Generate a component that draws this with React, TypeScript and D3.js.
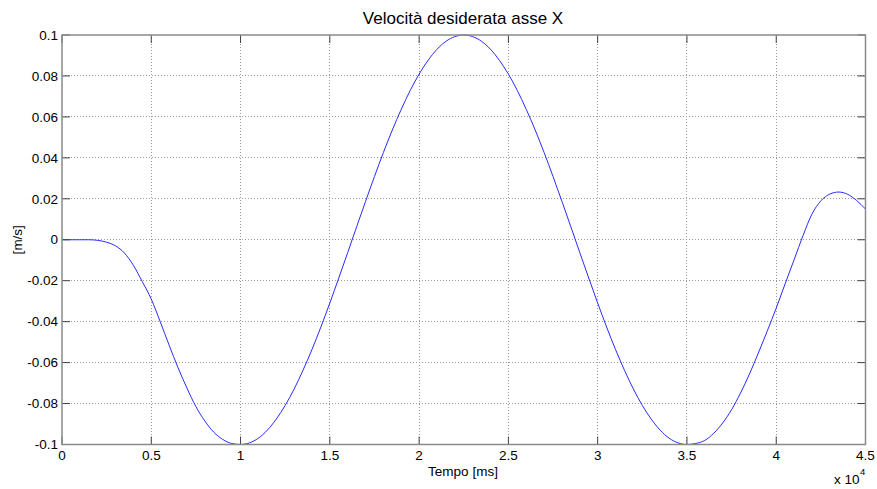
import * as d3 from "d3";

// tempo in ms (passo 500 ms), velocità desiderata in m/s
const timeMs = d3.range(0, 45001, 500);
const velocity = [
  0, 0, 0, 0, -0.0003, -0.0012, -0.003, -0.0065, -0.0125, -0.0205,
  -0.029, -0.04, -0.0515, -0.0625, -0.0725, -0.0815, -0.0885, -0.094, -0.0975, -0.0995,
  -0.1, -0.0992, -0.0969, -0.093, -0.0876, -0.0809, -0.0729, -0.0637, -0.0536, -0.0426,
  -0.0309, -0.0187, -0.0063, 0.0063, 0.0187, 0.0309, 0.0426, 0.0536, 0.0637, 0.0729,
  0.0809, 0.0876, 0.093, 0.0969, 0.0992, 0.1, 0.0992, 0.0969, 0.093, 0.0876,
  0.0809, 0.0729, 0.0637, 0.0536, 0.0426, 0.0309, 0.0187, 0.0063, -0.0063, -0.0187,
  -0.0309, -0.0426, -0.0536, -0.0637, -0.0729, -0.0809, -0.0876, -0.093, -0.0969, -0.0992,
  -0.1, -0.0995, -0.098, -0.0945, -0.0895, -0.083, -0.0749, -0.0656, -0.0553, -0.0445,
  -0.0334, -0.0215, -0.0098, 0.002, 0.0125, 0.019, 0.0223, 0.0233, 0.0222, 0.0192,
  0.015,
];
const xTicks = [0, 5000, 10000, 15000, 20000, 25000, 30000, 35000, 40000, 45000];
const yTicks = [-0.1, -0.08, -0.06, -0.04, -0.02, 0, 0.02, 0.04, 0.06, 0.08, 0.1];

const W = 877;
const H = 489;
const M = { top: 35, right: 11.5, bottom: 44.5, left: 62 };
const FONT = "Arial, 'Liberation Sans', Helvetica, sans-serif";
const TICK_LEN = 8;

export default function App() {
  const innerW = W - M.left - M.right;
  const innerH = H - M.top - M.bottom;

  const x = d3.scaleLinear().domain([0, 45000]).range([0, innerW]);
  const y = d3.scaleLinear().domain([-0.1, 0.1]).range([innerH, 0]);

  const pts = timeMs.map((t, i) => [t, velocity[i]] as [number, number]);
  const line = d3
    .line<[number, number]>()
    .x((d) => x(d[0]))
    .y((d) => y(d[1]))
    .curve(d3.curveMonotoneX);

  const fmtX = (v: number) => `${v / 10000}`;
  const fmtY = (v: number) => (Math.abs(v) < 1e-9 ? "0" : `${+v.toFixed(2)}`);

  return (
    <svg
      width={W}
      height={H}
      style={{ position: "fixed", left: 0, top: 0, background: "#fff" }}
      fontFamily={FONT}
    >
      <rect width={W} height={H} fill="#fff" />
      <text x={463} y={24} textAnchor="middle" fontSize={17} fill="#000">
        Velocità desiderata asse X
      </text>
      <g transform={`translate(${M.left},${M.top})`}>
        {/* griglia */}
        {xTicks.slice(1, -1).map((t) => (
          <line
            key={`gx${t}`}
            x1={x(t)}
            x2={x(t)}
            y1={0}
            y2={innerH}
            stroke="#9a9a9a"
            strokeWidth={1}
            strokeDasharray="1 2"
            shapeRendering="crispEdges"
          />
        ))}
        {yTicks.slice(1, -1).map((v) => (
          <line
            key={`gy${v}`}
            x1={0}
            x2={innerW}
            y1={y(v)}
            y2={y(v)}
            stroke="#9a9a9a"
            strokeWidth={1}
            strokeDasharray="1 2"
            shapeRendering="crispEdges"
          />
        ))}

        {/* curva */}
        <path d={line(pts) ?? ""} fill="none" stroke="#2a2aff" strokeWidth={1} />

        {/* tacche */}
        {xTicks.map((t) => (
          <g key={`tx${t}`} stroke="#404040" strokeWidth={1}>
            <line x1={x(t)} x2={x(t)} y1={innerH} y2={innerH - TICK_LEN} />
            <line x1={x(t)} x2={x(t)} y1={0} y2={TICK_LEN} />
          </g>
        ))}
        {yTicks.map((v) => (
          <g key={`ty${v}`} stroke="#404040" strokeWidth={1}>
            <line x1={0} x2={TICK_LEN} y1={y(v)} y2={y(v)} />
            <line x1={innerW} x2={innerW - TICK_LEN} y1={y(v)} y2={y(v)} />
          </g>
        ))}

        {/* riquadro */}
        <rect
          x={0}
          y={0}
          width={innerW}
          height={innerH}
          fill="none"
          stroke="#8a8a8a"
          strokeWidth={1.5}
        />

        {/* etichette */}
        {xTicks.map((t) => (
          <text
            key={`lx${t}`}
            x={x(t)}
            y={innerH + 15.5}
            textAnchor="middle"
            fontSize={13.5}
            fill="#000"
          >
            {fmtX(t)}
          </text>
        ))}
        {yTicks.map((v) => (
          <text
            key={`ly${v}`}
            x={-4}
            y={y(v)}
            dy="0.35em"
            textAnchor="end"
            fontSize={13.5}
            fill="#000"
          >
            {fmtY(v)}
          </text>
        ))}
      </g>
      <text x={463} y={476} textAnchor="middle" fontSize={13.5} fill="#000">
        Tempo [ms]
      </text>
      <text
        transform={`translate(22,${M.top + innerH / 2}) rotate(-90)`}
        textAnchor="middle"
        fontSize={13.5}
        fill="#000"
      >
        [m/s]
      </text>
      <text x={834} y={484} fontSize={13.5} fill="#000">
        x 10
      </text>
      <text x={860} y={475} fontSize={9.5} fill="#000">
        4
      </text>
    </svg>
  );
}
